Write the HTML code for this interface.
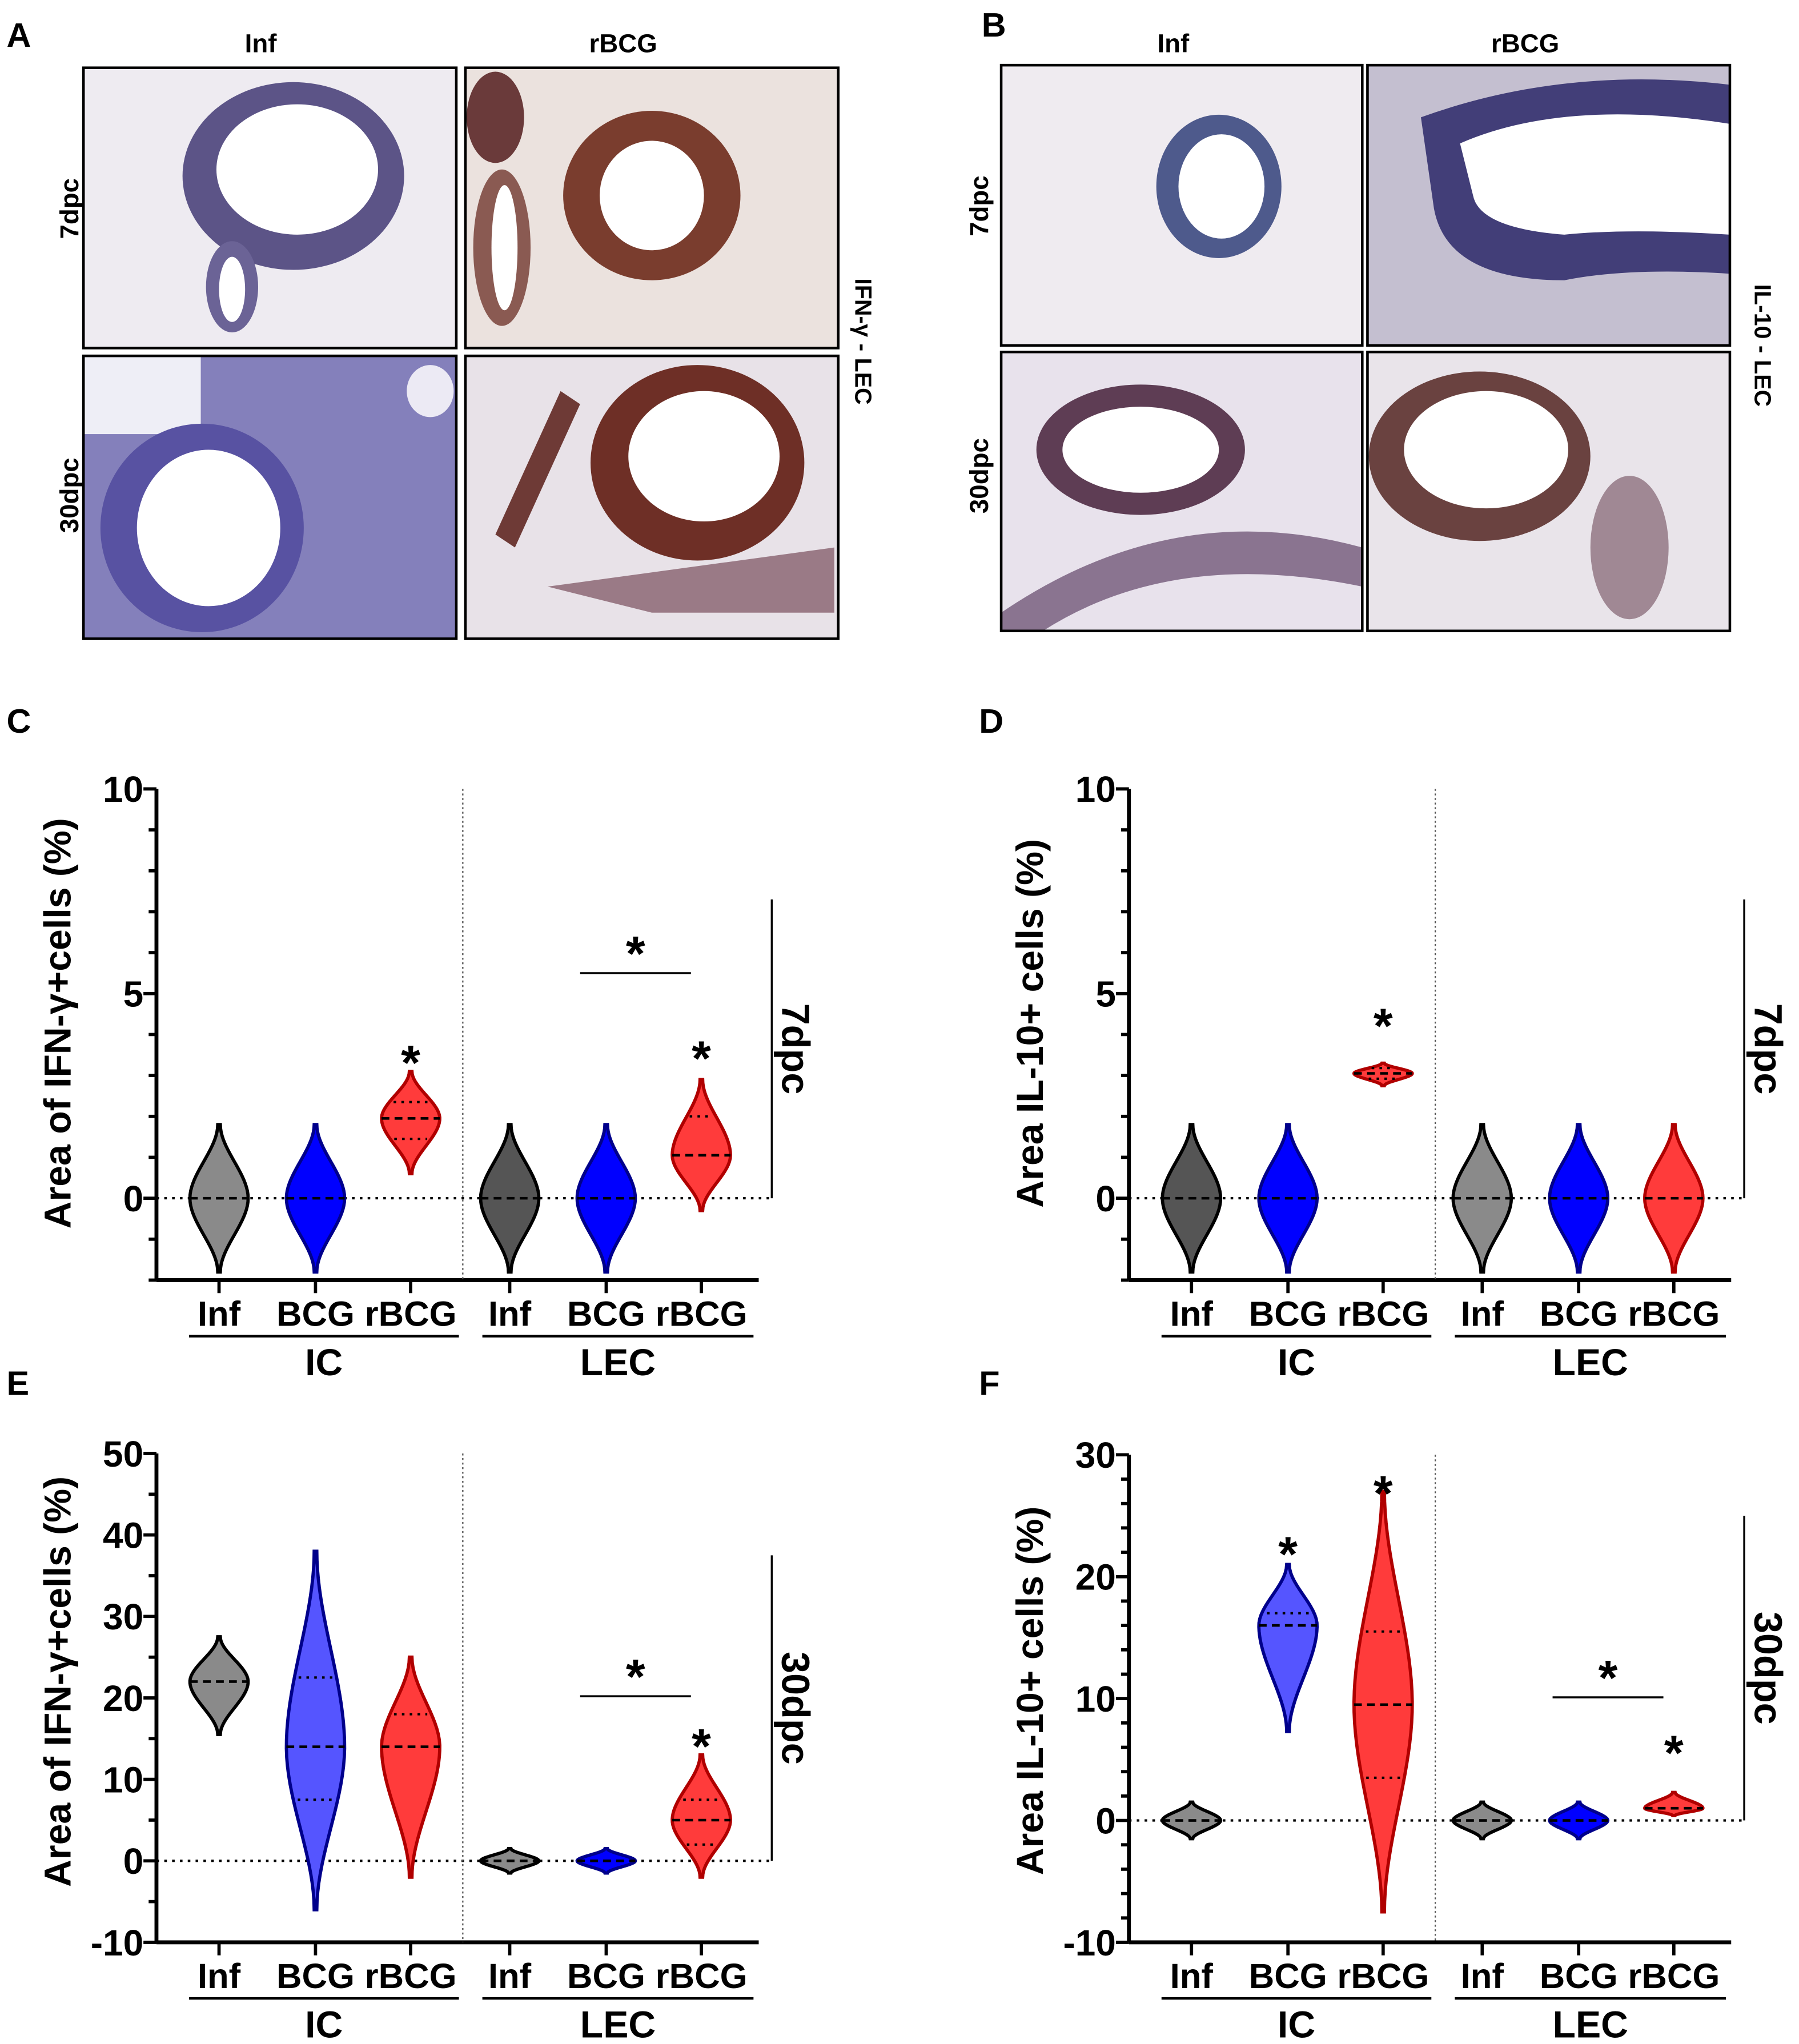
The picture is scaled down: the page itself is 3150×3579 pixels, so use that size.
<!DOCTYPE html>
<html><head><meta charset="utf-8"><style>
html,body{margin:0;padding:0;background:#fff}
svg{display:block}
text{font-family:"Liberation Sans",sans-serif;font-weight:bold}
</style></head><body>
<svg id="fig" width="3150" height="3579" viewBox="0 0 1380 1568" xmlns="http://www.w3.org/2000/svg">
<rect width="1380" height="1568" fill="#fff"/>
<!-- Panel A -->
<g>
<text x="5" y="36" font-size="26">A</text>
<text x="200" y="40" font-size="20" text-anchor="middle">Inf</text>
<text x="478" y="40" font-size="20" text-anchor="middle">rBCG</text>
<text transform="translate(60,160) rotate(-90)" font-size="20" text-anchor="middle">7dpc</text>
<text transform="translate(60,380) rotate(-90)" font-size="20" text-anchor="middle">30dpc</text>
<text transform="translate(656,262) rotate(90)" font-size="18" text-anchor="middle">IFN-γ - LEC</text>
<g>
<rect x="64" y="52" width="286" height="215" fill="#eeebf1"/>
<ellipse cx="225" cy="135" rx="85" ry="72" fill="#5c5487"/>
<ellipse cx="228" cy="130" rx="62" ry="50" fill="#fff"/>
<ellipse cx="178" cy="220" rx="20" ry="35" fill="#6b6396"/><ellipse cx="178" cy="222" rx="10" ry="25" fill="#fff"/>
<rect x="64" y="52" width="286" height="215" fill="none" stroke="#000" stroke-width="2"/></g>
<g>
<rect x="357" y="52" width="286" height="215" fill="#ebe2de"/>
<ellipse cx="500" cy="150" rx="68" ry="65" fill="#7a3d2e"/>
<ellipse cx="500" cy="150" rx="40" ry="42" fill="#fff"/>
<ellipse cx="385" cy="190" rx="22" ry="60" fill="#8a5a52"/><ellipse cx="387" cy="190" rx="10" ry="48" fill="#fff"/>
<ellipse cx="380" cy="90" rx="22" ry="35" fill="#6a3a3a"/>
<rect x="357" y="52" width="286" height="215" fill="none" stroke="#000" stroke-width="2"/></g>
<g>
<rect x="64" y="273" width="286" height="217" fill="#8480bb"/>
<rect x="64" y="273" width="90" height="60" fill="#eeeef6"/>
<ellipse cx="155" cy="405" rx="78" ry="80" fill="#5852a2"/>
<ellipse cx="160" cy="405" rx="55" ry="60" fill="#fff"/>
<ellipse cx="330" cy="300" rx="18" ry="20" fill="#eceaf4"/>
<rect x="64" y="273" width="286" height="217" fill="none" stroke="#000" stroke-width="2"/></g>
<g>
<rect x="357" y="273" width="286" height="217" fill="#e8e2e8"/>
<ellipse cx="535" cy="355" rx="82" ry="75" fill="#6e2f26"/>
<ellipse cx="540" cy="350" rx="58" ry="50" fill="#fff"/>
<path d="M380 410 L430 300 L445 310 L395 420Z" fill="#6e3a36"/>
<path d="M420 450 L640 420 L640 470 L500 470Z" fill="#9a7a86"/>
<rect x="357" y="273" width="286" height="217" fill="none" stroke="#000" stroke-width="2"/></g>
</g>
<!-- Panel B -->
<g>
<text x="753" y="28" font-size="26">B</text>
<text x="900" y="40" font-size="20" text-anchor="middle">Inf</text>
<text x="1170" y="40" font-size="20" text-anchor="middle">rBCG</text>
<text transform="translate(758,158) rotate(-90)" font-size="20" text-anchor="middle">7dpc</text>
<text transform="translate(758,365) rotate(-90)" font-size="20" text-anchor="middle">30dpc</text>
<text transform="translate(1346,265) rotate(90)" font-size="18" text-anchor="middle">IL-10 - LEC</text>
<g>
<rect x="768" y="50" width="277" height="215" fill="#efebf0"/>
<ellipse cx="935" cy="143" rx="48" ry="55" fill="#4e5a8c"/>
<ellipse cx="937" cy="143" rx="33" ry="40" fill="#fff"/>
<rect x="768" y="50" width="277" height="215" fill="none" stroke="#000" stroke-width="2"/></g>
<g>
<rect x="1049" y="50" width="278" height="215" fill="#c4bfd0"/>
<path d="M1090 90 Q1200 50 1327 65 L1327 210 Q1250 205 1200 215 Q1110 215 1100 160Z" fill="#423e78"/>
<path d="M1120 110 Q1200 75 1327 95 L1327 180 Q1250 175 1200 180 Q1135 175 1130 150Z" fill="#fff"/>
<rect x="1049" y="50" width="278" height="215" fill="none" stroke="#000" stroke-width="2"/></g>
<g>
<rect x="768" y="270" width="277" height="214" fill="#e8e2ec"/>
<ellipse cx="875" cy="345" rx="80" ry="50" fill="#5e3d54"/>
<ellipse cx="875" cy="345" rx="60" ry="33" fill="#fff"/>
<path d="M768 470 Q900 380 1045 420 L1045 450 Q900 420 800 484 L768 484Z" fill="#8a7490"/>
<rect x="768" y="270" width="277" height="214" fill="none" stroke="#000" stroke-width="2"/></g>
<g>
<rect x="1049" y="270" width="278" height="214" fill="#e9e4ea"/>
<ellipse cx="1135" cy="350" rx="85" ry="65" fill="#6a4240"/>
<ellipse cx="1140" cy="345" rx="63" ry="45" fill="#fff"/>
<ellipse cx="1250" cy="420" rx="30" ry="55" fill="#a08894"/>
<rect x="1049" y="270" width="278" height="214" fill="none" stroke="#000" stroke-width="2"/></g>
</g>
<g id="charts"></g>
</svg>
<script>
// ---------- Chart data ----------
const cats = ["Inf","BCG","rBCG","Inf","BCG","rBCG"];
// C: IFN-γ 7dpc
const cMin=[-1.8,-1.8,0.6,-1.8,-1.8,-0.3];
const cMax=[1.8,1.8,3.1,1.8,1.8,2.9];
const cMed=[0,0,1.95,0,0,1.05];
const cQ1=[null,null,1.45,null,null,null];
const cQ3=[null,null,2.35,null,null,2.0];
// D: IL-10 7dpc
const dMin=[-1.8,-1.8,2.75,-1.8,-1.8,-1.8];
const dMax=[1.8,1.8,3.3,1.8,1.8,1.8];
const dMed=[0,0,3.05,0,0,0];
const dQ1=[null,null,2.92,null,null,null];
const dQ3=[null,null,3.18,null,null,null];
// E: IFN-γ 30dpc
const eMin=[15.5,-6,-2,-1.5,-1.5,-2];
const eMax=[27.5,38,25,1.5,1.5,13];
const eMed=[22,14,14,0,0,5];
const eQ1=[null,7.5,null,null,null,2];
const eQ3=[null,22.5,18,null,null,7.5];
// F: IL-10 30dpc
const fMin=[-1.5,7.3,-7.5,-1.5,-1.5,0.4];
const fMax=[1.5,21,27,1.5,1.5,2.3];
const fMed=[0,16,9.5,0,0,1];
const fQ1=[null,null,3.5,null,null,null];
const fQ3=[null,17,15.5,null,null,null];
const cTicks=[0,5,10]; const dTicks=[0,5,10];
const eTicks=[-10,0,10,20,30,40,50]; const fTicks=[-10,0,10,20,30];

const NS="http://www.w3.org/2000/svg";
const root=document.getElementById('charts');
function el(tag,attrs,parent,txt){const e=document.createElementNS(NS,tag);for(const k in attrs)e.setAttribute(k,attrs[k]);if(txt!=null)e.textContent=txt;(parent||root).appendChild(e);return e;}

function chart(o){
  const g=el('g',{},root);
  
  
  const y=v=>o.y0-(v-o.vmin)*o.pxu;
  const catX=[48,122,195,271,345,418].map(d=>o.ax+d);
  const right=o.ax+462;
  const pl=el('text',{x:o.ax-115,y:o.labelY,'font-size':26},g,o.letter);
  
  
  const ya=el('line',{x1:o.ax,y1:y(o.vmax),x2:o.ax,y2:o.y0,stroke:'#000','stroke-width':3},g);
  
  
  for(let v=o.vmin;v<=o.vmax+1e-9;v+=o.minor){
    const major=o.ticks.some(t=>Math.abs(t-v)<1e-9);
    el('line',{x1:o.ax-(major?10:6),y1:y(v),x2:o.ax,y2:y(v),stroke:'#000','stroke-width':2.5},g);
  }
  o.ticks.forEach(t=>{const tl=el('text',{x:o.ax-10,y:y(t)+10,'font-size':28,'text-anchor':'end'},g,String(t));
    
    });
  const xa=el('line',{x1:o.ax,y1:o.y0,x2:right,y2:o.y0,stroke:'#000','stroke-width':3},g);
  
  
  el('line',{x1:o.ax,y1:y(0),x2:right+10,y2:y(0),stroke:'#000','stroke-width':1.8,'stroke-dasharray':'2 4'},g);
  el('line',{x1:o.ax+235,y1:y(o.vmax),x2:o.ax+235,y2:o.y0,stroke:'#555','stroke-width':1,'stroke-dasharray':'1.5 2'},g);
  const yt=el('text',{transform:`translate(${o.ax-66},${o.titleY}) rotate(-90)`,'font-size':29,'text-anchor':'middle'},g,o.title);
  
  
  el('line',{x1:right+10,y1:y(o.brTop),x2:right+10,y2:y(0),stroke:'#000','stroke-width':1.5},g);
  const dp=el('text',{transform:`translate(${right+18},${(y(o.brTop)+y(0))/2}) rotate(90)`,'font-size':30,'text-anchor':'middle'},g,o.dpc);
  
  
  cats.forEach((c,i)=>{
    el('line',{x1:catX[i],y1:o.y0,x2:catX[i],y2:o.y0+10,stroke:'#000','stroke-width':2.5},g);
    const t=el('text',{x:catX[i],y:o.y0+35,'font-size':27,'text-anchor':'middle'},g,c);
    
    
  });
  [[o.ax+25,o.ax+232,'IC'],[o.ax+250,o.ax+458,'LEC']].forEach(([a,b,l])=>{
    el('line',{x1:a,y1:o.y0+43,x2:b,y2:o.y0+43,stroke:'#000','stroke-width':2},g);
    const t=el('text',{x:(a+b)/2,y:o.y0+73,'font-size':29,'text-anchor':'middle'},g,l);
    
    
  });
  for(let i=0;i<6;i++){
    const mn=o.min[i],mx=o.max[i],md=o.med[i],W=22;
    const pts=[];const N=40;
    const wf=v=>{let t=v<md?(v-mn)/(md-mn):(mx-v)/(mx-md);t=Math.max(0,Math.min(1,t));return W*(t*t*(3-2*t))*0.97+1;};
    for(let k=0;k<=N;k++){const v=mn+(mx-mn)*k/N;pts.push([catX[i]+wf(v),y(v)]);}
    for(let k=N;k>=0;k--){const v=mn+(mx-mn)*k/N;pts.push([catX[i]-wf(v),y(v)]);}
    const p=el('polygon',{points:pts.map(q=>q.join(',')).join(' '),fill:o.fills[i],stroke:o.strokes[i],'stroke-width':2.5},g);
    
    
    el('line',{x1:catX[i]-wf(md),y1:y(md),x2:catX[i]+wf(md),y2:y(md),stroke:'#000','stroke-width':2,'stroke-dasharray':'6 4'},g);
    [o.q1[i],o.q3[i]].forEach(q=>{if(q!=null)el('line',{x1:catX[i]-wf(q)*0.8,y1:y(q),x2:catX[i]+wf(q)*0.8,y2:y(q),stroke:'#000','stroke-width':1.8,'stroke-dasharray':'2 4'},g);});
  }
  o.stars.forEach(([i,v])=>{const s=el('text',{x:catX[i],y:y(v)+22,'font-size':38,'text-anchor':'middle'},g,'*');
    
    });
  if(o.bar){el('line',{x1:catX[4]-20,y1:y(o.bar),x2:catX[5]-8,y2:y(o.bar),stroke:'#000','stroke-width':1.5},g);
    const s=el('text',{x:(catX[4]+catX[5])/2-14,y:y(o.bar)-2,'font-size':38,'text-anchor':'middle'},g,'*');
    
    }
}
const gray='#8a8a8a',dgray='#555',blue='#0000ff',red='#ff3b3b',lblue='#5555ff';
chart({name:'chart-c-ifn-7dpc',letter:'C',labelY:562,ax:120,y0:982,vmin:-2,vmax:10,pxu:31.4,minor:1,ticks:cTicks,
  min:cMin,max:cMax,med:cMed,q1:cQ1,q3:cQ3,title:'Area of IFN-γ+cells (%)',titleY:785,dpc:'7dpc',brTop:7.3,
  fills:[gray,blue,red,dgray,blue,red],strokes:['#000','#00008b','#b00000','#000','#00008b','#b00000'],
  stars:[[2,3.6],[5,3.7]],bar:5.5});
chart({name:'chart-d-il10-7dpc',letter:'D',labelY:562,ax:866,y0:982,vmin:-2,vmax:10,pxu:31.4,minor:1,ticks:dTicks,
  min:dMin,max:dMax,med:dMed,q1:dQ1,q3:dQ3,title:'Area IL-10+ cells (%)',titleY:785,dpc:'7dpc',brTop:7.3,
  fills:[dgray,blue,red,gray,blue,red],strokes:['#000','#00008b','#b00000','#000','#00008b','#b00000'],
  stars:[[2,4.5]],bar:null});
chart({name:'chart-e-ifn-30dpc',letter:'E',labelY:1070,ax:120,y0:1490,vmin:-10,vmax:50,pxu:6.25,minor:5,ticks:eTicks,
  min:eMin,max:eMax,med:eMed,q1:eQ1,q3:eQ3,title:'Area of IFN-γ+cells (%)',titleY:1290,dpc:'30dpc',brTop:37.5,
  fills:[gray,lblue,red,gray,blue,red],strokes:['#000','#00008b','#b00000','#000','#00008b','#b00000'],
  stars:[[5,15.5]],bar:20.2});
chart({name:'chart-f-il10-30dpc',letter:'F',labelY:1070,ax:866,y0:1490,vmin:-10,vmax:30,pxu:9.35,minor:2,ticks:fTicks,
  min:fMin,max:fMax,med:fMed,q1:fQ1,q3:fQ3,title:'Area IL-10+ cells (%)',titleY:1297,dpc:'30dpc',brTop:25,
  fills:[gray,lblue,red,gray,blue,red],strokes:['#000','#00008b','#b00000','#000','#00008b','#b00000'],
  stars:[[1,22.8],[2,27.8],[5,6.5]],bar:10.1});
</script>
</body></html>
